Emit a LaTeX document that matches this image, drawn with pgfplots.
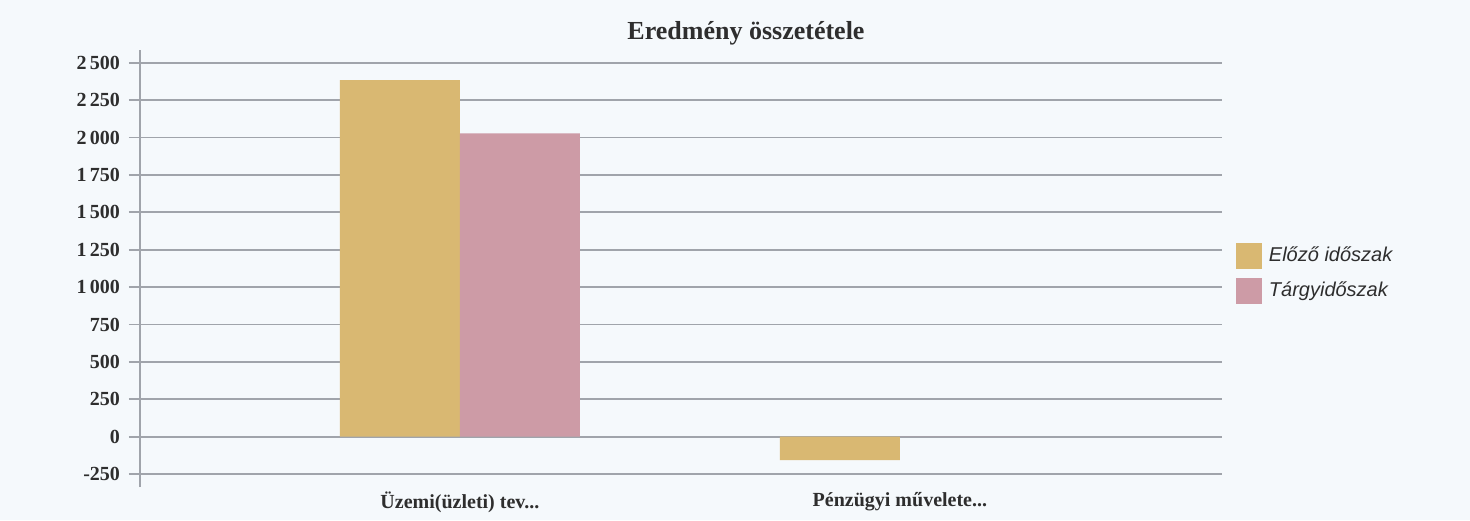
\documentclass[border=0pt]{standalone}
\usepackage{pgfplots}
\pgfplotsset{compat=1.18}
\usepackage{fontspec}
\setmainfont{Liberation Serif}
\newfontfamily\legfont{Liberation Sans}
\definecolor{bgc}{HTML}{F5F9FC}
\definecolor{gridc}{HTML}{A0A4AB}
\definecolor{yel}{HTML}{D9B872}
\definecolor{pnk}{HTML}{CD9BA6}
\definecolor{txt}{HTML}{2E2E2E}
\begin{document}
\begin{tikzpicture}
\fill[bgc] (0,0) rectangle (735pt,260pt);
\begin{axis}[
  at={(70pt,16.5pt)}, anchor=south west,
  scale only axis,
  width=541pt, height=218.5pt,
  xmin=-0.727, xmax=1.732,
  ymin=-336, ymax=2585,
  axis lines*=left,
  x axis line style={draw=none},
  y axis line style={gridc, line width=0.9pt},
  xtick={0,1},
  xticklabels={{Üzemi(üzleti) tev.{}.{}.}, {Pénzügyi művelete.{}.{}.}},
  xtick style={draw=none},
  ytick={-250,0,250,500,750,1000,1250,1500,1750,2000,2250,2500},
  yticklabels={-250,0,250,500,750,1\,000,1\,250,1\,500,1\,750,2\,000,2\,250,2\,500},
  tick align=outside,
  major tick length=5.5pt,
  ytick style={gridc, line width=0.9pt},
  ymajorgrids,
  major grid style={gridc, line width=0.9pt},
  ticklabel style={font=\fontsize{10}{12}\selectfont\bfseries, text=txt},
  yticklabel style={xshift=-1pt},
  xticklabel style={yshift=6.5pt},
  ybar=0pt, bar width=60pt,
  legend style={at={(1.0125,0.56)}, anchor=north west, draw=none, fill=none,
    font=\legfont\itshape\fontsize{10}{12}\selectfont, text=txt,
    row sep=4.5pt, inner sep=0pt,
    nodes={inner xsep=3.5pt}},
  legend image code/.code={\fill[#1] (0pt,-6.5pt) rectangle (13pt,6.5pt);},
  legend cell align=left,
]
\addplot[fill=yel, draw=none] coordinates {(0,2384) (1,-156)};
\addplot[fill=pnk, draw=none] coordinates {(0,2028) (1,0)};
\legend{Előző időszak, Tárgyidőszak}
\end{axis}
\node[font=\fontsize{13}{15}\selectfont\bfseries, text=txt] at (373pt,243.5pt) {Eredmény összetétele};
\pgfresetboundingbox
\path[use as bounding box] (0,0) rectangle (735pt,260pt);
\end{tikzpicture}
\end{document}
